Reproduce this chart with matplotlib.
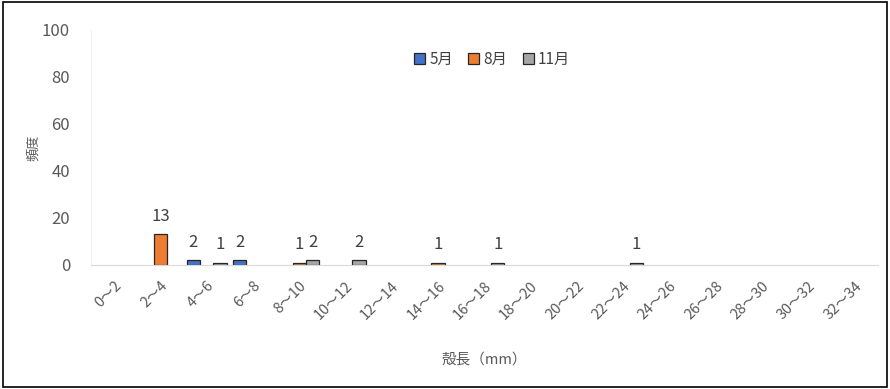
import numpy as np
import matplotlib.pyplot as plt
from matplotlib.patches import Rectangle

plt.rcParams['font.family'] = ['Noto Sans CJK JP', 'DejaVu Sans']

# shell length classes (mm)
classes = ['0～2', '2～4', '4～6', '6～8', '8～10', '10～12', '12～14', '14～16',
           '16～18', '18～20', '20～22', '22～24', '24～26', '26～28', '28～30',
           '30～32', '32～34']

may = [0, 0, 2, 2, 0, 0, 0, 0, 0, 0, 0, 0, 0, 0, 0, 0, 0]
aug = [0, 13, 0, 0, 1, 0, 0, 1, 0, 0, 0, 0, 0, 0, 0, 0, 0]
nov = [0, 0, 1, 0, 2, 2, 0, 0, 1, 0, 0, 1, 0, 0, 0, 0, 0]

series = [('5月', may, '#4472C4'), ('8月', aug, '#ED7D31'), ('11月', nov, '#A5A5A5')]

fig = plt.figure(figsize=(8.9, 3.89), dpi=100)
ax = fig.add_axes([0.1022, 0.319, 0.884, 0.604])

x = np.arange(len(classes))
w = 0.29
for k, (name, vals, col) in enumerate(series):
    vals = np.array(vals)
    pos = x + (k - 1) * w
    nz = vals > 0  # empty classes get no bar at all
    ax.bar(pos[nz], vals[nz], w, color=col, edgecolor='#262626', linewidth=0.9,
           label=name)
    for p, v in zip(pos[nz], vals[nz]):
        ax.text(p, v + 4, str(v), ha='center', va='bottom', fontsize=12,
                color='#404040')

ax.set_xlim(-0.5, len(classes) - 0.5)
ax.set_ylim(0, 100)
ax.set_yticks(range(0, 101, 20))
ax.tick_params(axis='y', length=0, labelsize=12, labelcolor='#595959', pad=15)
ax.set_xticks(x)
ax.set_xticklabels(classes, rotation=45, ha='right', rotation_mode='anchor',
                   fontsize=10.5, color='#595959')
ax.tick_params(axis='x', length=0, pad=10)

for s in ['top', 'right']:
    ax.spines[s].set_visible(False)
ax.spines['bottom'].set_color('#d9d9d9')
ax.spines['left'].set_color('#f0f0f0')

ax.set_ylabel('頻度', fontsize=9.5, color='#595959', labelpad=1)
ax.set_xlabel('殻長（mm）', fontsize=10.5, color='#595959', labelpad=22)

ax.legend(loc='upper center', bbox_to_anchor=(0.51, 0.97), ncol=3, frameon=False,
          fontsize=11, handlelength=0.7, handleheight=0.7, handletextpad=0.3,
          columnspacing=1.0, labelcolor='#404040')

fig.patches.append(Rectangle((0.003, 0.004), 0.994, 0.992, transform=fig.transFigure,
                             fill=False, edgecolor='black', linewidth=1.2))

fig.savefig('out.png', dpi=100)
